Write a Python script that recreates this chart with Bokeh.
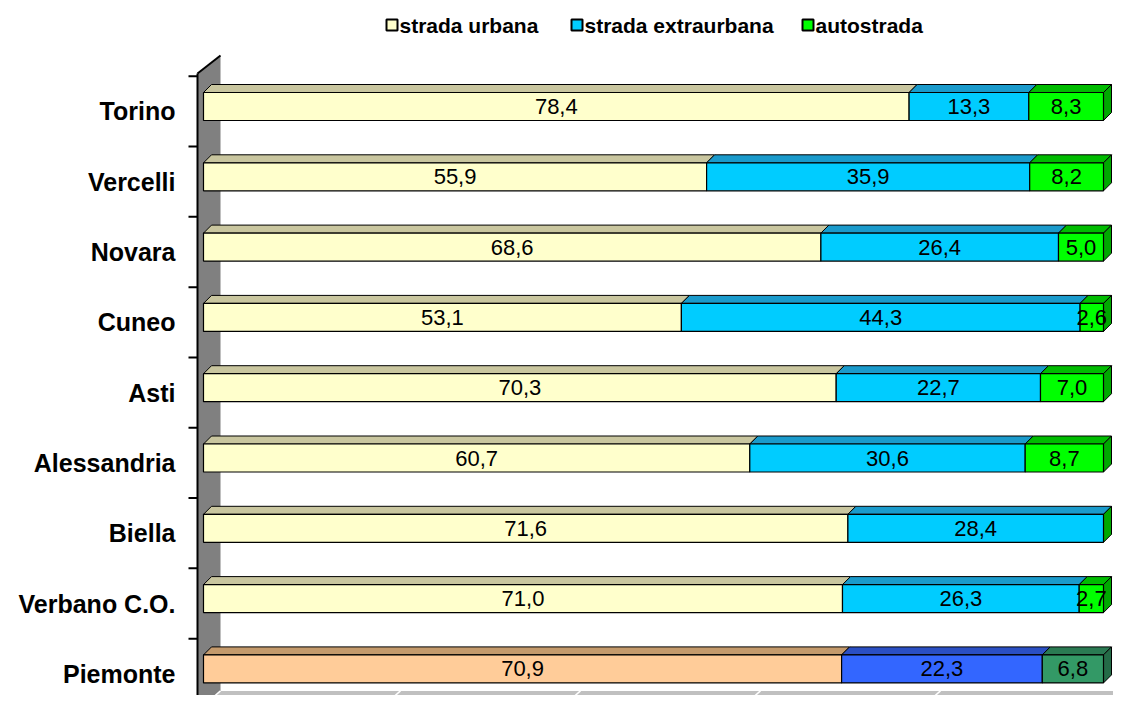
from bokeh.plotting import figure
from bokeh.models import Range1d, ColumnDataSource
from bokeh.core.properties import value
from bokeh.embed import file_html
from bokeh.resources import INLINE

# ---------------- data ----------------
categories = ["Torino", "Vercelli", "Novara", "Cuneo", "Asti",
              "Alessandria", "Biella", "Verbano C.O.", "Piemonte"]
urbana = [78.4, 55.9, 68.6, 53.1, 70.3, 60.7, 71.6, 71.0, 70.9]
extraurbana = [13.3, 35.9, 26.4, 44.3, 22.7, 30.6, 28.4, 26.3, 22.3]
autostrada = [8.3, 8.2, 5.0, 2.6, 7.0, 8.7, 0.0, 2.7, 6.8]
series_names = ["strada urbana", "strada extraurbana", "autostrada"]
floor_ticks = [0, 20, 40, 60, 80, 100]

# ---------------- styles ----------------
front_cols = ["#FFFFCC", "#00CCFF", "#00FF00"]
top_cols = ["#C9C69F", "#1A9ACB", "#00BB00"]
side_cols = ["#B8B590", "#1488B4", "#00A800"]
# total row (Piemonte)
front_tot = ["#FFCC99", "#3366FF", "#339966"]
top_tot = ["#C49A6C", "#2A4FC4", "#2A7A52"]
side_tot = ["#B08860", "#2344AA", "#246B47"]

FONT = value("Liberation Sans")

W, H = 1113, 695
PX_PER_UNIT = 9.0
X0_PX = 203
ROW_PX = 70.3
ROW0_PX = 106

x_start = -X0_PX / PX_PER_UNIT
x_end = x_start + W / PX_PER_UNIT
y_top = -ROW0_PX / ROW_PX
y_bottom = y_top + H / ROW_PX


def px_x(px):
    return x_start + px / PX_PER_UNIT


def px_y(py):
    return y_top + py / ROW_PX


DX = 8 / PX_PER_UNIT      # depth offset in x
DY = 8 / ROW_PX           # depth offset in y (upwards)
HH = 14 / ROW_PX          # half bar height
n = len(categories)
FLOOR_Y = (n - 1) + HH + 8 / ROW_PX   # floor back edge just below the last bar
FLOOR_FRONT = FLOOR_Y + 13 / ROW_PX

p = figure(width=W, height=H, x_range=Range1d(x_start, x_end),
           y_range=Range1d(y_bottom, y_top), output_backend="svg",
           toolbar_location=None, min_border=0,
           x_axis_location=None, y_axis_location=None)
p.grid.visible = False
p.outline_line_color = None
p.background_fill_color = "white"
p.border_fill_color = "white"

# ---------------- wall & floor ----------------
p.patch([px_x(197), px_x(220), px_x(220), px_x(197)],
        [px_y(73), px_y(55), px_y(H + 20), px_y(H + 20)],
        fill_color="#808080", line_color=None)
p.patch([px_x(220), px_x(W + 10), px_x(W + 10), px_x(197)],
        [FLOOR_Y, FLOOR_Y, px_y(H + 20), px_y(H + 20)],
        fill_color="#C0C0C0", line_color=None)
fx0 = [v + 2 / PX_PER_UNIT for v in floor_ticks]
fx1 = [v + 17 / PX_PER_UNIT for v in floor_ticks]
p.segment(x0=fx0, y0=[FLOOR_FRONT] * len(floor_ticks), x1=fx1,
          y1=[FLOOR_Y] * len(floor_ticks), line_color="white", line_width=1.5)
p.line([px_x(197), px_x(197)], [px_y(73), px_y(H + 20)], line_color="black", line_width=2)
p.line([px_x(197), px_x(220)], [px_y(73), px_y(55)], line_color="black", line_width=2)
tick_y = [i - 0.5 + 0.07 for i in range(n)]
p.segment(x0=[px_x(188)] * n, y0=tick_y, x1=[px_x(197)] * n, y1=tick_y,
          line_color="black", line_width=2)

# ---------------- bars ----------------
series = [urbana, extraurbana, autostrada]
fq = dict(left=[], right=[], top=[], bottom=[], color=[])
tp = dict(xs=[], ys=[], color=[])
sd = dict(xs=[], ys=[], color=[])
lab = dict(x=[], y=[], t=[])
for i in range(n):
    last = (i == n - 1)
    fc = front_tot if last else front_cols
    tc = top_tot if last else top_cols
    scl = side_tot if last else side_cols
    left = 0.0
    yt, yb = i - HH, i + HH
    for k, s in enumerate(series):
        v = s[i]
        right = left + v
        if v > 0:
            fq["left"].append(left); fq["right"].append(right)
            fq["top"].append(yt); fq["bottom"].append(yb); fq["color"].append(fc[k])
            tp["xs"].append([left, right, right + DX, left + DX])
            tp["ys"].append([yt, yt, yt - DY, yt - DY])
            tp["color"].append(tc[k])
            lab["x"].append((left + right) / 2); lab["y"].append(i)
            lab["t"].append(f"{v:.1f}".replace(".", ","))
        if k == len(series) - 1:
            sd["xs"].append([right, right + DX, right + DX, right])
            sd["ys"].append([yt, yt - DY, yb - DY, yb])
            sd["color"].append(scl[k])
        left = right

p.patches(xs="xs", ys="ys", fill_color="color", line_color="black", line_width=1,
          source=ColumnDataSource(tp))
p.patches(xs="xs", ys="ys", fill_color="color", line_color="black", line_width=1,
          source=ColumnDataSource(sd))
p.quad(left="left", right="right", top="top", bottom="bottom", fill_color="color",
       line_color="black", line_width=1.2, source=ColumnDataSource(fq))

p.text(x="x", y="y", text="t", source=ColumnDataSource(lab), text_font=FONT,
       text_font_size="22px", text_align="center", text_baseline="middle",
       text_color="black")

# ---------------- category labels ----------------
p.text(x=[px_x(175)] * n, y=[i + 0.07 for i in range(n)], text=categories,
       text_font=FONT, text_font_size="25px", text_font_style="bold",
       text_align="right", text_baseline="middle", text_color="black")

# ---------------- legend ----------------
sq_px = [386, 571, 802]
p.quad(left=[px_x(x) for x in sq_px], right=[px_x(x + 11) for x in sq_px],
       top=[px_y(19)] * 3, bottom=[px_y(30)] * 3, fill_color=front_cols,
       line_color="black", line_width=2)
p.text(x=[px_x(x + 13) for x in sq_px], y=[px_y(25)] * 3, text=series_names,
       text_font=FONT, text_font_size="21px", text_font_style="bold",
       text_align="left", text_baseline="middle", text_color="black")

open("out.html", "w").write(file_html(p, INLINE))
